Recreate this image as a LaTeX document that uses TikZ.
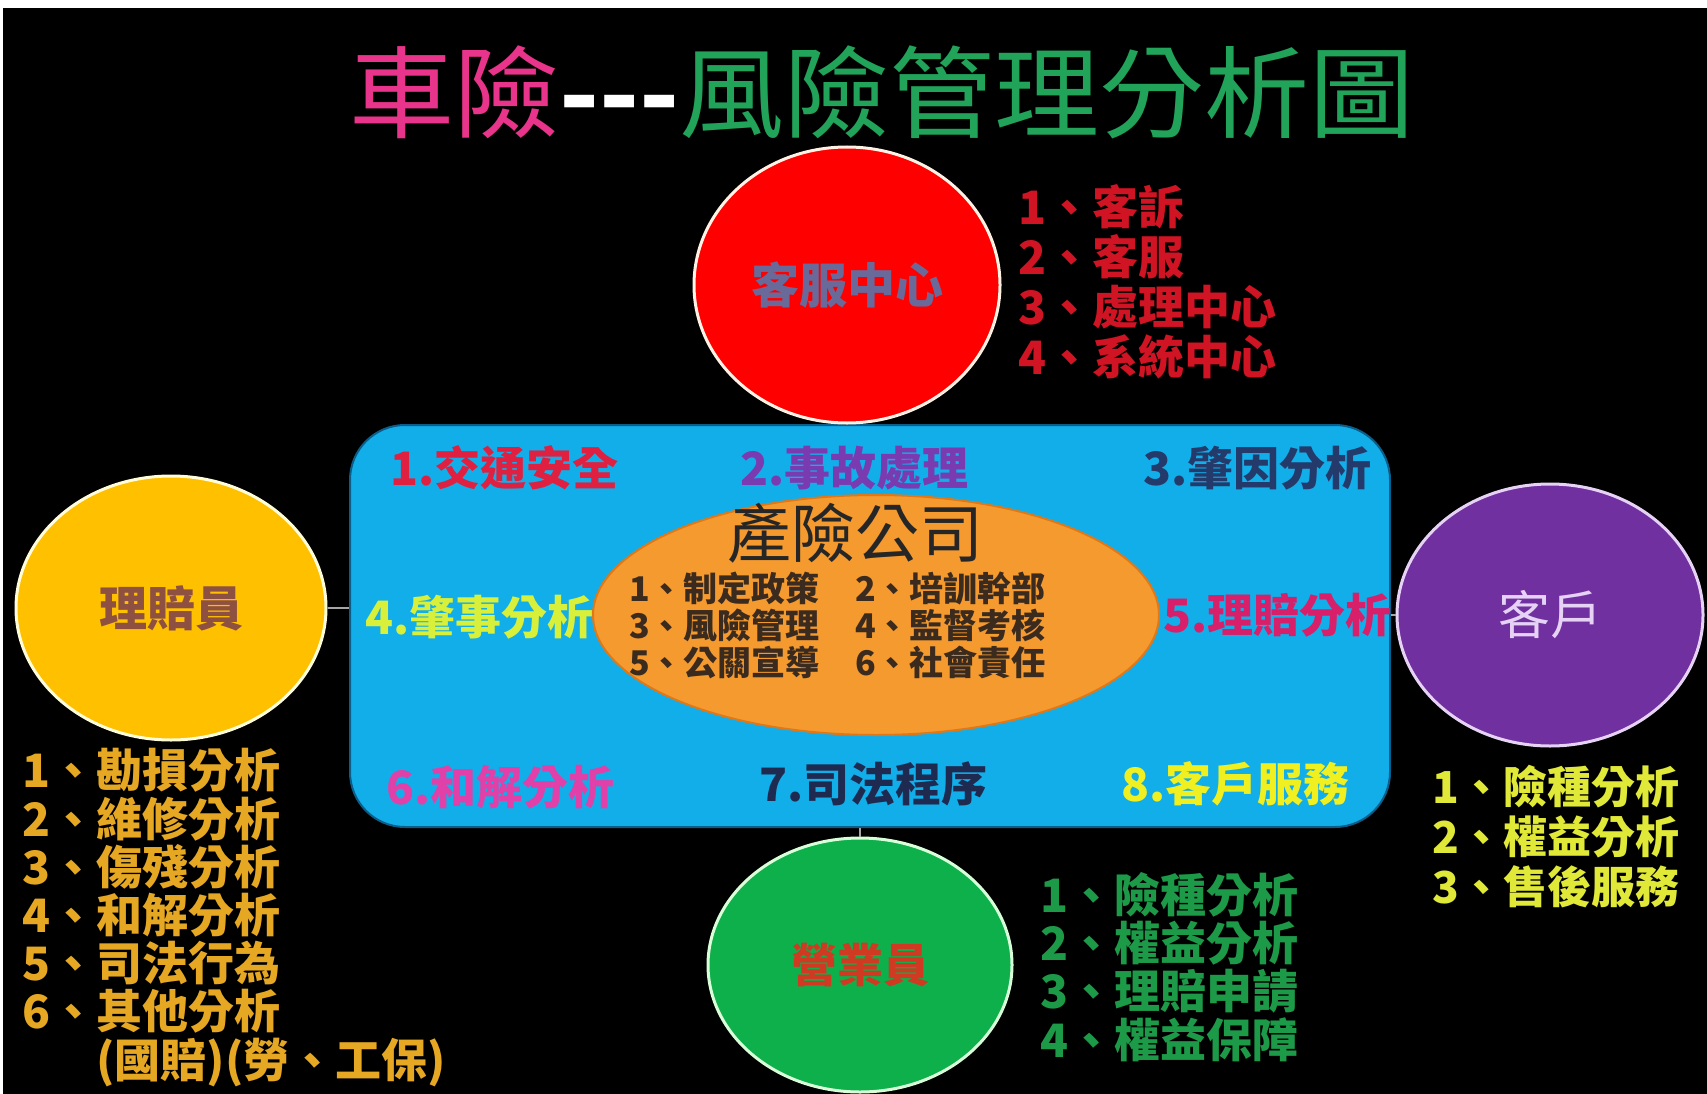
\documentclass[tikz,border=0pt]{standalone}
\usepackage{fontspec}
\setmainfont{Noto Sans CJK TC}
\usetikzlibrary{shapes.geometric}
\definecolor{tpink}{HTML}{E8348A}
\definecolor{tgreen}{HTML}{21A35A}
\definecolor{cred}{HTML}{FF0000}
\definecolor{credtxt}{HTML}{D01424}
\definecolor{boxblue}{HTML}{12AEEA}
\definecolor{boxedge}{HTML}{0B5E8A}
\definecolor{orangefill}{HTML}{F49A2E}
\definecolor{orangeedge}{HTML}{E07818}
\definecolor{ellitxt}{HTML}{3B2A1E}
\definecolor{cyellow}{HTML}{FFC000}
\definecolor{cpurple}{HTML}{7030A0}
\definecolor{cgreen}{HTML}{0DB04B}
\definecolor{goldtxt}{HTML}{E6A823}
\definecolor{ylwtxt}{HTML}{E0E838}
\definecolor{grntxt}{HTML}{1D9A48}
\definecolor{kefutxt}{HTML}{6A6A9A}
\definecolor{lipeitxt}{HTML}{8E5040}
\definecolor{kehutxt}{HTML}{E6D2F5}
\definecolor{yingyetxt}{HTML}{D03A22}
\definecolor{la}{HTML}{E02040}
\definecolor{lb}{HTML}{7A3AB0}
\definecolor{lc}{HTML}{243A6A}
\definecolor{ld}{HTML}{D8F03A}
\definecolor{le}{HTML}{D8206A}
\definecolor{lf}{HTML}{E040A8}
\definecolor{lg}{HTML}{1E2A50}
\definecolor{lh}{HTML}{F0F020}
\begin{document}
\begin{tikzpicture}[x=1pt,y=-1pt,
  bubble/.style={ellipse, draw, line width=3pt, inner sep=0},
  boxlbl/.style={font=\bfseries\fontsize{46}{48}\selectfont, anchor=west, inner sep=0},
  listtxt/.style={font=\bfseries\fontsize{46}{48}\selectfont, align=left, inner sep=0, anchor=base west},
  elltxt/.style={font=\bfseries\fontsize{34}{37}\selectfont, text=ellitxt, align=left, inner sep=0, anchor=base west},
  link/.style={draw=gray!70, line width=1.5pt}]
\useasboundingbox (0,0) rectangle (1707,1094);
\fill[white] (0,0) rectangle (1707,1094);
\fill[black] (3,8) rectangle (1707,1094);

% title
\node[inner sep=0, font=\fontsize{100}{110}\selectfont] (title) at (882,92)
  {\scalebox{1.05}[1]{\textcolor{tpink}{車險}\textcolor{white}{\bfseries -{}-{}-}\textcolor{tgreen}{風險管理分析圖}}};

% central box
\node[draw=boxedge, line width=2pt, fill=boxblue, rounded corners=55pt,
      minimum width=1040, minimum height=402, inner sep=0] (box) at (870,626) {};
\node[ellipse, draw=orangeedge, line width=2pt, fill=orangefill,
      minimum width=566, minimum height=240, inner sep=0] (company) at (876,615) {};
\node[inner sep=0, font=\fontsize{64}{66}\selectfont, text=black!85] (cname) at (855,533) {產險公司};
\node[elltxt] (colA) at (629,675) {1、制定政策\\3、風險管理\\5、公關宣導};
\node[elltxt] (colB) at (855,675) {2、培訓幹部\\4、監督考核\\6、社會責任};

\node[boxlbl, text=la] (l1) at (390,468) {1.交通安全};
\node[boxlbl, text=lb] (l2) at (740,468) {2.事故處理};
\node[boxlbl, text=lc] (l3) at (1143,468) {3.肇因分析};
\node[boxlbl, text=ld] (l4) at (365,617) {4.肇事分析};
\node[boxlbl, text=le] (l5) at (1163,615) {5.理賠分析};
\node[boxlbl, text=lf] (l6) at (386,787) {6.和解分析};
\node[boxlbl, text=lg] (l7) at (759,784) {7.司法程序};
\node[boxlbl, text=lh] (l8) at (1121,784) {8.客戶服務};

% outer bubbles
\node[bubble, fill=cred, draw=white!90!orange, minimum width=306, minimum height=276,
      font=\bfseries\fontsize{48}{50}\selectfont, text=kefutxt] (kefu) at (847,285) {客服中心};
\node[bubble, fill=cyellow, draw=white!85!yellow, minimum width=310, minimum height=264,
      font=\bfseries\fontsize{48}{50}\selectfont, text=lipeitxt] (lipei) at (171,608) {理賠員};
\node[bubble, fill=cpurple, draw=kehutxt, minimum width=306, minimum height=262,
      font=\fontsize{52}{54}\selectfont, text=kehutxt] (kehu) at (1550,615) {客戶};
\node[bubble, fill=cgreen, draw=white!85!green, minimum width=304, minimum height=254,
      font=\bfseries\fontsize{46}{48}\selectfont, text=yingyetxt] (yingye) at (860,965) {營業員};

% connectors
\draw[link] (kefu.south) -- (kefu.south |- box.north);
\draw[link] (lipei.east) -- (lipei.east -| box.west);
\draw[link] (box.east |- kehu.west) -- (kehu.west);
\draw[link] (yingye.north) -- (yingye.north |- box.south);

% lists (anchored at the baseline of their last line)
\node[listtxt, text=credtxt, font=\bfseries\fontsize{46}{50}\selectfont] (kefulist) at (1018,374)
  {1、客訴\\2、客服\\3、處理中心\\4、系統中心};
\node[listtxt, text=goldtxt, font=\bfseries\fontsize{46}{48.2}\selectfont] (lipeilist) at (22,1077)
  {1、勘損分析\\2、維修分析\\3、傷殘分析\\4、和解分析\\5、司法行為\\6、其他分析\\\phantom{1、}(國賠)(勞、工保)};
\node[listtxt, text=ylwtxt, font=\bfseries\fontsize{44}{50}\selectfont] (kehulist) at (1432,903)
  {1、險種分析\\2、權益分析\\3、售後服務};
\node[listtxt, text=grntxt, font=\bfseries\fontsize{46}{48.3}\selectfont] (yingyelist) at (1040,1057)
  {1、險種分析\\2、權益分析\\3、理賠申請\\4、權益保障};
\end{tikzpicture}
\end{document}
